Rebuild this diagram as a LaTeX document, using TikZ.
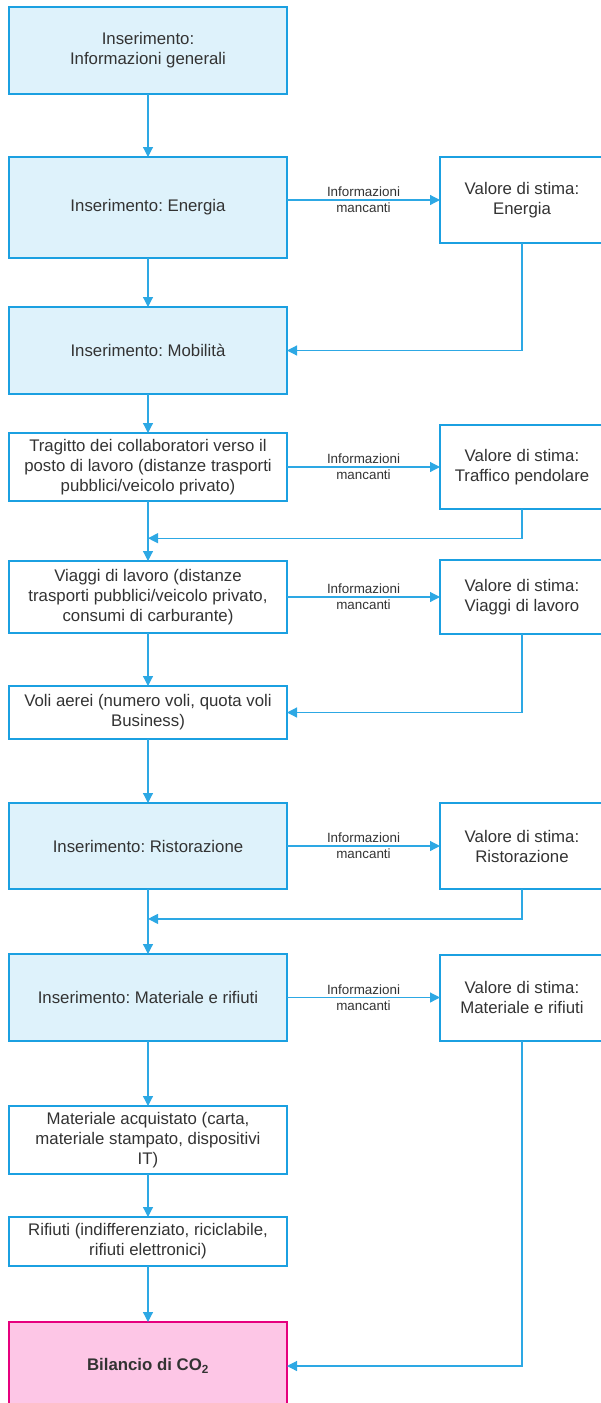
\documentclass[tikz,border=0pt]{standalone}
\usepackage{fontspec}
\setmainfont{Liberation Sans}
\usetikzlibrary{arrows.meta,positioning,calc}
\definecolor{boxblue}{RGB}{27,160,225}
\definecolor{fillblue}{RGB}{222,242,251}
\definecolor{linkblue}{RGB}{45,168,228}
\definecolor{txtgray}{RGB}{51,51,51}
\definecolor{boxpink}{RGB}{230,0,126}
\definecolor{fillpink}{RGB}{253,198,230}
\frenchspacing

\begin{document}
\begin{tikzpicture}[
    x=1pt, y=-1pt,
    inbox/.style={rectangle, draw=boxblue, line width=2pt, fill=fillblue, minimum width=278pt, align=center, outer sep=0pt, text=txtgray, font=\fontsize{16.8}{20}\selectfont},
    detail/.style={inbox, fill=white},
    estimate/.style={inbox, fill=white, minimum width=164pt},
    result/.style={inbox, draw=boxpink, fill=fillpink, font=\fontsize{16.8}{20}\selectfont\bfseries},
    arrow/.style={-{Triangle[length=10pt, width=10pt]}, line width=1.2pt, draw=linkblue},
    hint/.style={font=\fontsize{13.4}{16}\selectfont, align=center, text=txtgray}
]
\useasboundingbox (0,0) rectangle (600,1403);

% Main column
\node[inbox, minimum height=87pt] (box1) at (148,50.5) {Inserimento:\\Informazioni generali};
\node[inbox, minimum height=101pt, below=63pt of box1] (box2) {Inserimento: Energia};
\node[inbox, minimum height=87pt, below=49pt of box2] (box3) {Inserimento: Mobilità};
\node[detail, minimum height=68pt, below=39pt of box3] (box4) {Tragitto dei collaboratori verso il\\posto di lavoro (distanze trasporti\\pubblici/veicolo privato)};
\node[detail, minimum height=72pt, below=60pt of box4] (box5) {Viaggi di lavoro (distanze\\trasporti pubblici/veicolo privato,\\consumi di carburante)};
\node[detail, minimum height=53pt, below=53pt of box5] (box6) {Voli aerei (numero voli, quota voli\\Business)};
\node[inbox, minimum height=86pt, below=64pt of box6] (box7) {Inserimento: Ristorazione};
\node[inbox, minimum height=87pt, below=65pt of box7] (box8) {Inserimento: Materiale e rifiuti};
\node[detail, minimum height=68pt, below=65pt of box8] (box9) {Materiale acquistato (carta,\\materiale stampato, dispositivi\\IT)};
\node[detail, minimum height=49pt, below=43pt of box9] (box10) {Rifiuti (indifferenziato, riciclabile,\\rifiuti elettronici)};
\node[result, minimum height=88pt, below=56pt of box10] (co2) {Bilancio di CO\textsubscript{2}};

% Estimates
\node[estimate, minimum height=86pt, right=153pt of box2.north east, anchor=north west] (est2) {Valore di stima:\\Energia};
\node[estimate, minimum height=84pt, right=153pt of box4] (est4) {Valore di stima:\\Traffico pendolare};
\node[estimate, minimum height=74pt, right=153pt of box5] (est5) {Valore di stima:\\Viaggi di lavoro};
\node[estimate, minimum height=86pt, right=153pt of box7] (est7) {Valore di stima:\\Ristorazione};
\node[estimate, minimum height=86pt, right=153pt of box8] (est8) {Valore di stima:\\Materiale e rifiuti};

\coordinate (join4) at ($(box4.south)!0.62!(box5.north)$);
\coordinate (join7) at ($(box7.south)!0.46!(box8.north)$);

% Arrows
\draw[arrow] (box1) -- (box2);
\draw[arrow] (box2) -- (box3);
\draw[arrow] (box3) -- (box4);
\draw[arrow] (box4) -- (box5);
\draw[arrow] (box5) -- (box6);
\draw[arrow] (box6) -- (box7);
\draw[arrow] (box7) -- (box8);
\draw[arrow] (box8) -- (box9);
\draw[arrow] (box9) -- (box10);
\draw[arrow] (box10) -- (co2);

\draw[arrow] (est2.west -| box2.east) -- node[hint] {Informazioni\\mancanti} (est2.west);
\draw[arrow] (box4) -- node[hint] {Informazioni\\mancanti} (est4);
\draw[arrow] (box5) -- node[hint] {Informazioni\\mancanti} (est5);
\draw[arrow] (box7) -- node[hint] {Informazioni\\mancanti} (est7);
\draw[arrow] (box8) -- node[hint] {Informazioni\\mancanti} (est8);

\draw[arrow] (est2.south) |- (box3.east);
\draw[arrow] (est4.south) |- (join4);
\draw[arrow] (est5.south) |- (box6.east);
\draw[arrow] (est7.south) |- (join7);
\draw[arrow] (est8.south) |- (co2.east);
\end{tikzpicture}
\end{document}
